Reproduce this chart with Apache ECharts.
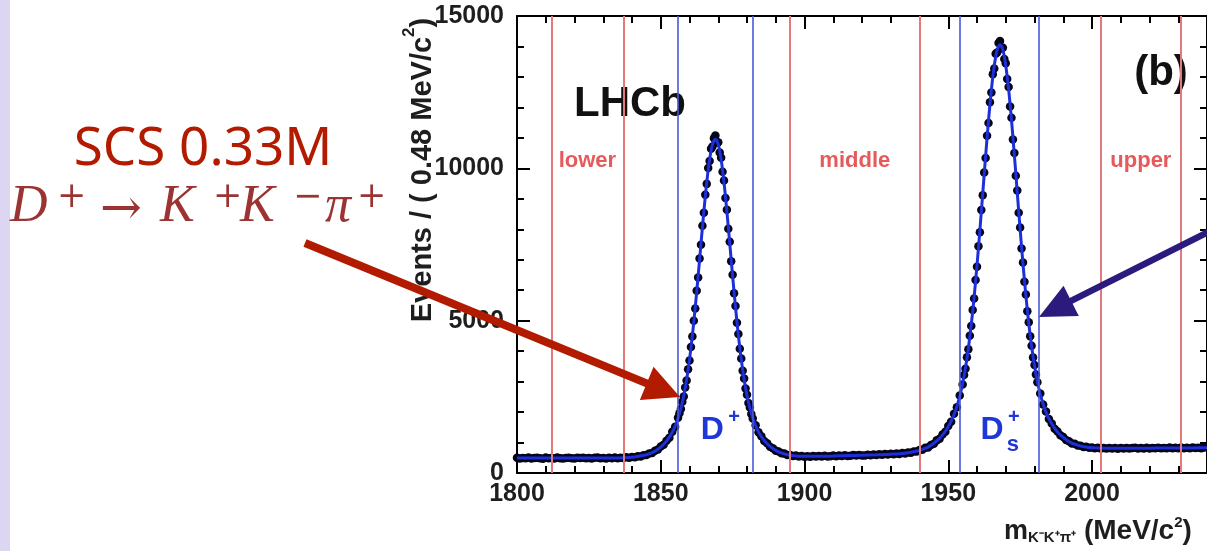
<!DOCTYPE html>
<html>
<head>
<meta charset="utf-8">
<title>m(K-K+pi+) spectrum</title>
<script src="https://cdn.jsdelivr.net/npm/echarts@6/dist/echarts.min.js"></script>
<style>
html, body { margin: 0; padding: 0; background: #fff; }
#chart { width: 1207px; height: 551px; }
</style>
</head>
<body>
<div id="chart"></div>
<script>
// events per bin (bins 1 MeV in the tails, 0.5 MeV on the peaks)
var countsLow = [ // 1800 .. 1856
	502, 478, 495, 486, 508, 472, 491, 499, 483, 470,
	505, 488, 496, 479, 510, 484, 477, 493, 501, 486,
	474, 497, 489, 503, 481, 492, 476, 498, 507, 485,
	494, 479, 500, 488, 511, 483, 497, 490, 515, 498,
	522, 514, 547, 545, 584, 590, 644, 660, 733, 770,
	868, 930, 1062, 1160, 1355, 1521, 1812
];
var countsDplus = [ // 1856.5 .. 1881.5
	1960, 2098, 2335, 2510, 2810, 3040, 3402, 3691, 4135, 4480,
	4998, 5401, 5982, 6420, 7040, 7490, 8115, 8540, 9130, 9490,
	10010, 10240, 10640, 10720, 10990, 11080, 10850, 10860, 10520, 10350,
	9890, 9600, 9030, 8640, 8020, 7590, 6950, 6510, 5900, 5480,
	4930, 4560, 4075, 3760, 3355, 3100, 2770, 2568, 2301, 2150,
	1938
];
var countsMid = [ // 1882 .. 1955
	1790, 1570, 1338, 1210, 1052, 975, 860, 815, 731, 708,
	645, 636, 590, 594, 556, 571, 540, 559, 535, 552,
	531, 557, 538, 561, 542, 566, 545, 549, 572, 553,
	577, 556, 583, 561, 568, 592, 571, 594, 578, 571,
	603, 585, 609, 590, 614, 598, 622, 605, 629, 614,
	640, 625, 655, 642, 676, 668, 705, 706, 755, 763,
	826, 840, 921, 962, 1071, 1125, 1262, 1352, 1540, 1680,
	1941, 2160, 2545, 2905
];
var countsDs = [ // 1955.5 .. 1980.5
	3215, 3425, 3800, 4060, 4505, 4822, 5348, 5725, 6335, 6770,
	7440, 7905, 8630, 9120, 9865, 10340, 11070, 11490, 12170, 12490,
	13090, 13280, 13760, 13800, 14110, 14180, 13930, 13960, 13590, 13450,
	12930, 12670, 12030, 11660, 10950, 10500, 9760, 9270, 8540, 8060,
	7365, 6910, 6280, 5860, 5310, 4950, 4490, 4180, 3795, 3545,
	3230
];
var countsHigh = [ // 1981 .. 2039
	2980, 2610, 2245, 2018, 1770, 1628, 1455, 1362, 1238, 1178,
	1085, 1043, 971, 958, 905, 896, 857, 861, 830, 840,
	814, 829, 807, 823, 806, 821, 802, 817, 799, 820,
	803, 822, 804, 818, 826, 805, 821, 808, 827, 806,
	823, 811, 830, 809, 824, 812, 833, 815, 828, 810,
	835, 816, 829, 813, 838, 818, 831, 815, 834
];

// fit curve [mass, events]
var fitCurve = [
	[1800, 490], [1805, 490], [1810, 490], [1815, 490], [1820, 490], [1825, 490], [1830, 491], [1835, 494], [1840, 515],
	[1845, 600], [1846, 631], [1847, 671], [1848, 719], [1849, 779], [1850, 853], [1851, 942], [1852, 1048], [1853, 1176],
	[1854, 1336], [1855, 1536], [1856, 1790], [1857, 2117], [1858, 2535], [1859, 3064], [1860, 3722], [1861, 4515],
	[1862, 5437], [1863, 6460], [1864, 7534], [1865, 8587], [1866, 9538], [1867, 10296], [1868, 10786], [1869, 10955],
	[1870, 10786], [1871, 10297], [1872, 9539], [1873, 8590], [1874, 7537], [1875, 6464], [1876, 5442], [1877, 4520],
	[1878, 3729], [1879, 3072], [1880, 2545], [1881, 2128], [1882, 1802], [1883, 1550], [1884, 1350], [1885, 1192],
	[1886, 1066], [1887, 961], [1888, 874], [1889, 803], [1890, 744], [1891, 697], [1892, 658], [1893, 627], [1894, 602],
	[1895, 582], [1900, 546], [1905, 548], [1910, 559], [1915, 572], [1920, 585], [1925, 599], [1930, 617], [1935, 651],
	[1940, 741], [1941, 775], [1942, 812], [1943, 852], [1944, 907], [1945, 976], [1946, 1052], [1947, 1141], [1948, 1245],
	[1949, 1370], [1950, 1519], [1951, 1698], [1952, 1916], [1953, 2185], [1954, 2518], [1955, 2937], [1956, 3458],
	[1957, 4097], [1958, 4865], [1959, 5772], [1960, 6818], [1961, 7966], [1962, 9181], [1963, 10408], [1964, 11566],
	[1965, 12575], [1966, 13367], [1967, 13883], [1968, 14060], [1969, 13888], [1970, 13377], [1971, 12591],
	[1972, 11587], [1973, 10434], [1974, 9212], [1975, 8002], [1976, 6860], [1977, 5819], [1978, 4917], [1979, 4154],
	[1980, 3520], [1981, 3005], [1982, 2591], [1983, 2263], [1984, 1999], [1985, 1786], [1986, 1613], [1987, 1469],
	[1988, 1349], [1989, 1250], [1990, 1166], [1991, 1096], [1992, 1032], [1993, 982], [1994, 947], [1995, 915],
	[1996, 887], [1997, 866], [1998, 850], [2000, 829], [2005, 814], [2010, 809], [2015, 812], [2020, 815],
	[2025, 818], [2030, 821], [2035, 824], [2040, 827]
];

// region boundaries (MeV)
var sidebandLines = [1812, 1837, 1895, 1940, 2003, 2031];
var signalLines = [1856, 1882, 1954, 1981.5];

var xTicks = { min: 1800, max: 2040, major: 50, minor: 10 };
var yTicks = { min: 0, max: 15000, major: 5000 };

function bins(start, step, counts) {
	var out = [];
	for(var i = 0; i < counts.length; i++) {
		out.push([start + i * step, counts[i]]);
	}
	return out;
}

var points = [].concat(
	bins(1800, 1, countsLow),
	bins(1856.5, 0.5, countsDplus),
	bins(1882, 1, countsMid),
	bins(1955.5, 0.5, countsDs),
	bins(1981, 1, countsHigh)
);

// arrow = thick line + triangular head
function arrow(x1, y1, x2, y2, headLen, headHalf, width, color) {
	var dx = x2 - x1, dy = y2 - y1;
	var len = Math.sqrt(dx * dx + dy * dy);
	var ux = dx / len, uy = dy / len;
	var bx = x2 - ux * headLen, by = y2 - uy * headLen;
	var nx = -uy, ny = ux;
	return [{
		type: 'line',
		shape: { x1: x1, y1: y1, x2: bx + ux * 4, y2: by + uy * 4 },
		style: { stroke: color, lineWidth: width },
		z: 20
	}, {
		type: 'polygon',
		shape: { points: [[x2, y2], [bx + nx * headHalf, by + ny * headHalf], [bx - nx * headHalf, by - ny * headHalf]] },
		style: { fill: color },
		z: 20
	}];
}

var tickFont = 'Liberation Sans';
var plain = function(v) { return String(v); };

function majorX(pos, showLabel) {
	return {
		type: 'value', position: pos, gridIndex: 0,
		min: xTicks.min, max: xTicks.max, interval: xTicks.major,
		axisLine: { show: true, onZero: false, lineStyle: { color: '#000', width: 2 } },
		axisTick: { inside: true, length: 13, lineStyle: { color: '#000', width: 2 } },
		axisLabel: {
			show: showLabel, margin: 9, showMaxLabel: false, formatter: plain,
			fontFamily: tickFont, fontWeight: 'bold', fontSize: 25, color: '#1e1e1e'
		},
		splitLine: { show: false }
	};
}
function minorX(pos) {
	return {
		type: 'value', position: pos, gridIndex: 0,
		min: xTicks.min, max: xTicks.max, interval: xTicks.minor,
		axisLine: { show: false, onZero: false },
		axisTick: { show: true, inside: true, length: 7, lineStyle: { color: '#000', width: 2 } },
		axisLabel: { show: false },
		splitLine: { show: false }
	};
}
function axisY(pos, showLabel) {
	return {
		type: 'value', position: pos,
		min: yTicks.min, max: yTicks.max, interval: yTicks.major,
		axisLine: { show: true, onZero: false, lineStyle: { color: '#000', width: 2 } },
		axisTick: { inside: true, length: 13, lineStyle: { color: '#000', width: 2 } },
		minorTick: { show: true, splitNumber: 5, length: 7, lineStyle: { color: '#000', width: 2 } },
		axisLabel: {
			show: showLabel, margin: 13, formatter: plain,
			fontFamily: tickFont, fontWeight: 'bold', fontSize: 25, color: '#1e1e1e'
		},
		splitLine: { show: false }
	};
}

var chart = echarts.init(document.getElementById('chart'));

var regionRed = '#e55a5a';
var peakBlue = '#1f36d8';
var inPlotLabels = [
	{ value: [1824.5, 10230], label: { formatter: 'lower', color: regionRed, fontSize: 22 } },
	{ value: [1917.5, 10230], label: { formatter: 'middle', color: regionRed, fontSize: 22 } },
	{ value: [2017, 10230], label: { formatter: 'upper', color: regionRed, fontSize: 22 } },
	{ value: [1867.9, 1410], label: { formatter: 'D', color: peakBlue, fontSize: 32 } },
	{ value: [1867.9, 1410], label: { formatter: '+', color: peakBlue, fontSize: 20, offset: [22, -13] } },
	{ value: [1965.2, 1410], label: { formatter: 'D', color: peakBlue, fontSize: 32 } },
	{ value: [1965.2, 1410], label: { formatter: '+', color: peakBlue, fontSize: 20, offset: [22, -13] } },
	{ value: [1965.2, 1410], label: { formatter: 's', color: peakBlue, fontSize: 22, offset: [21, 15] } }
];

// D+ -> K+ K- pi+ written glyph by glyph (left x, vertical centre)
var formulaRed = '#9b3333';
var formulaGlyphs = [
	{ t: 'D', x: 10, y: 207, size: 52, it: true },
	{ t: '+', x: 57, y: 198, size: 35 },
	{ t: '→', x: 100, y: 211, size: 50 },
	{ t: 'K', x: 160, y: 207, size: 52, it: true },
	{ t: '+', x: 213, y: 198, size: 35 },
	{ t: 'K', x: 240, y: 207, size: 52, it: true },
	{ t: '−', x: 293, y: 198, size: 35 },
	{ t: 'π', x: 325, y: 207, size: 52, it: true },
	{ t: '+', x: 357, y: 198, size: 35 }
];

var graphics = [
	{ type: 'rect', shape: { x: 0, y: 0, width: 10, height: 551 }, style: { fill: '#ddd6f3' } },
	{
		type: 'text', x: 203, y: 150,
		style: {
			text: 'SCS 0.33M', fill: '#b31b00', fontFamily: 'Noto Sans', fontSize: 53,
			align: 'center', verticalAlign: 'middle'
		}
	},
	{
		type: 'text', x: 419, y: 170, rotation: Math.PI / 2,
		style: {
			text: '{t|Events / ( 0.48 MeV/c}{s|2}{t|)}',
			align: 'center', verticalAlign: 'middle',
			rich: {
				t: { fontFamily: tickFont, fontWeight: 'bold', fontSize: 29, lineHeight: 36, fill: '#1e1e1e', verticalAlign: 'bottom' },
				s: { fontFamily: tickFont, fontWeight: 'bold', fontSize: 17, lineHeight: 20, fill: '#1e1e1e', verticalAlign: 'top' }
			}
		}
	},
	{
		type: 'text', x: 1004, y: 530,
		style: {
			text: '{m|m}{b|K⁻K⁺π⁺}{t| (MeV/c}{s|2}{t|)}',
			align: 'left', verticalAlign: 'middle',
			rich: {
				m: { fontFamily: tickFont, fontWeight: 'bold', fontSize: 27, lineHeight: 30, fill: '#1e1e1e', verticalAlign: 'bottom' },
				b: { fontFamily: tickFont, fontWeight: 'bold', fontSize: 15, lineHeight: 12, fill: '#1e1e1e', verticalAlign: 'bottom' },
				t: { fontFamily: tickFont, fontWeight: 'bold', fontSize: 28, lineHeight: 30, fill: '#1e1e1e', verticalAlign: 'bottom' },
				s: { fontFamily: tickFont, fontWeight: 'bold', fontSize: 15, lineHeight: 16, fill: '#1e1e1e', verticalAlign: 'top' }
			}
		}
	},
	{
		type: 'text', x: 630, y: 104,
		style: { text: 'LHCb', fontFamily: tickFont, fontWeight: 'bold', fontSize: 42, fill: '#111', align: 'center', verticalAlign: 'middle' },
		z: 5
	},
	{
		type: 'text', x: 1161, y: 73,
		style: { text: '(b)', fontFamily: tickFont, fontWeight: 'bold', fontSize: 42, fill: '#111', align: 'center', verticalAlign: 'middle' },
		z: 5
	}
].concat(
	formulaGlyphs.map(function(g) {
		return {
			type: 'text', x: g.x, y: g.y,
			style: {
				text: g.t, fill: formulaRed, fontSize: g.size,
				fontFamily: g.it ? 'Liberation Serif' : 'DejaVu Serif',
				fontStyle: g.it ? 'italic' : 'normal',
				align: 'left', verticalAlign: 'middle'
			}
		};
	}),
	arrow(305, 243, 680, 397, 36, 18, 8, '#b31b00'),
	arrow(1222, 225, 1039, 317, 36, 17, 6.5, '#2c1a7c')
);

var option = {
	backgroundColor: '#fff',
	animation: false,
	grid: { left: 517, top: 16, width: 693, height: 457, containLabel: false },
	xAxis: [majorX('bottom', true), minorX('bottom'), majorX('top', false), minorX('top')],
	yAxis: [axisY('left', true), axisY('right', false)],
	graphic: graphics,
	series: [{
			// region boundaries
			type: 'line',
			data: [],
			silent: true,
			z: 1,
			markLine: {
				silent: true,
				symbol: ['none', 'none'],
				label: { show: false },
				data: sidebandLines.map(function(v) {
					return { xAxis: v, lineStyle: { color: '#e37a7a', width: 2, type: 'solid' } };
				}).concat(signalLines.map(function(v) {
					return { xAxis: v, lineStyle: { color: '#4a58d6', width: 1.6, type: 'solid' } };
				}))
			}
		},
		{
			name: 'data',
			type: 'scatter',
			data: points,
			symbol: 'circle',
			symbolSize: 8.5,
			itemStyle: { color: '#05051a', opacity: 1 },
			z: 2
		},
		{
			name: 'fit',
			type: 'line',
			data: fitCurve,
			showSymbol: false,
			smooth: 0.3,
			lineStyle: { color: '#1c2fd8', width: 3 },
			z: 3
		},
		{
			type: 'scatter',
			data: inPlotLabels,
			symbolSize: 0,
			silent: true,
			itemStyle: { opacity: 1 },
			z: 4,
			label: {
				show: true, position: 'inside', opacity: 1,
				fontFamily: tickFont, fontWeight: 'bold'
			}
		}
	]
};

chart.setOption(option);

window.addEventListener('resize', function() {
	chart.resize();
});
</script>
</body>
</html>
